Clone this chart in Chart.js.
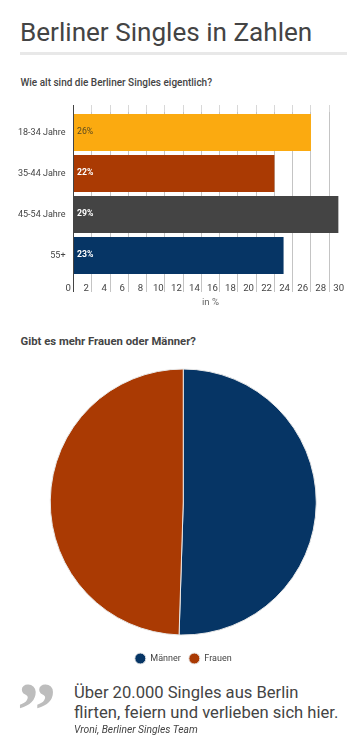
<!DOCTYPE html>
<html lang="de"><head><meta charset="utf-8">
<script src="https://cdn.jsdelivr.net/npm/chart.js@4"></script>
<style>
html,body{margin:0;padding:0;background:#fff;overflow:hidden}
body{width:364px;height:748px;position:relative;font-family:Roboto,sans-serif;color:#444}
.t{position:absolute;white-space:nowrap;margin:0}
canvas{position:absolute;left:0}
</style></head><body>
<h1 class="t" style="left:20px;top:17px;font-size:26.1px;line-height:30px;font-weight:400">Berliner Singles in Zahlen</h1>
<div style="position:absolute;left:20px;top:52px;width:327px;height:3px;background:#e8e8e8"></div>
<div class="t" style="left:20.5px;top:76px;font-size:10px;line-height:13px;font-weight:500">Wie alt sind die Berliner Singles eigentlich?</div>
<div class="t" style="left:20.5px;top:335px;font-size:11.3px;line-height:14px;font-weight:700">Gibt es mehr Frauen oder Männer?</div>
<div style="position:absolute;left:0;top:100px;width:364px;height:210px"><canvas id="bars"></canvas></div>
<div style="position:absolute;left:0;top:350px;width:364px;height:323px"><canvas id="pie"></canvas></div>
<div class="t" style="left:17px;top:670px;font-family:'Liberation Serif',serif;font-weight:700;font-size:79px;line-height:79px;color:#bdbdbd">”</div>
<div class="t" style="left:74px;top:683px;font-size:16.6px;line-height:20px;font-weight:400">Über 20.000 Singles aus Berlin<br>flirten, feiern und verlieben sich hier.</div>
<div class="t" style="left:74px;top:724px;font-size:10.3px;line-height:12px;font-style:italic">Vroni, Berliner Singles Team</div>
<script>
const ageGroups = ["18-34 Jahre", "35-44 Jahre", "45-54 Jahre", "55+"];
const agePercent = [26, 22, 29, 23];
const ageColors = ["#fbaa10", "#aa3a03", "#444444", "#063565"];
const ageLabelColors = ["#5a4a20", "#ffffff", "#ffffff", "#ffffff"];
const xTickValues = [0, 2, 4, 6, 8, 10, 12, 14, 16, 18, 20, 22, 24, 26, 28, 30];
const genderLabels = ["Männer", "Frauen"];
const genderValues = [50.5, 49.5];
const genderColors = ["#063565", "#aa3a03"];

const font = {family: "Roboto", size: 9.6};
const gridColor = c => c.tick && c.tick.value === 0 ? "#444444" : c.tick && c.tick.value === 30 ? "rgba(0,0,0,0)" : "#c4c4c4";

const valueLabels = {
  id: "valueLabels",
  afterDatasetsDraw(chart) {
    const ctx = chart.ctx, meta = chart.getDatasetMeta(0);
    ctx.save();
    ctx.textBaseline = "middle";
    meta.data.forEach((bar, i) => {
      ctx.font = (i === 0 ? "400 " : "700 ") + "8.7px Roboto";
      ctx.fillStyle = ageLabelColors[i];
      ctx.fillText(agePercent[i] + "%", bar.base + 3, bar.y - 1);
    });
    ctx.restore();
  }
};

new Chart(document.getElementById("bars"), {
  type: "bar",
  data: {labels: ageGroups, datasets: [{data: agePercent, backgroundColor: ageColors, categoryPercentage: 1, barPercentage: 0.9}]},
  options: {
    indexAxis: "y", responsive: true, maintainAspectRatio: false, animation: false,
    layout: {padding: {left: 0, right: 16.5, top: 0, bottom: 0}},
    plugins: {legend: {display: false}, tooltip: {enabled: false}},
    scales: {
      y: {
        type: "category", position: "left",
        grid: {display: false}, border: {display: false},
        ticks: {font: {family: "Roboto", size: 9}, color: "#444", padding: 0},
        afterFit: s => { s.width = 73.5; }
      },
      x: {
        type: "linear", position: "bottom", min: 0, max: 30,
        border: {display: false},
        grid: {color: gridColor, tickColor: gridColor, tickLength: 16, drawOnChartArea: true},
        ticks: {display: false, stepSize: 2},
        afterFit: s => { s.height = 0; }
      },
      xTop: {
        type: "linear", position: "top", min: 0, max: 30,
        border: {display: false},
        grid: {drawOnChartArea: false, tickColor: c => c.tick.value === 0 ? "#444444" : c.tick.value === 30 ? "rgba(0,0,0,0)" : "#d8d8d8", tickLength: 7},
        ticks: {display: false, stepSize: 2},
        afterFit: s => { s.height = 12; }
      },
      xLabels: {
        type: "linear", position: "bottom", min: 0.587, max: 30.976,
        border: {display: false}, grid: {display: false},
        afterBuildTicks: s => { s.ticks = xTickValues.map(value => ({value})); },
        ticks: {font, color: "#444", padding: -1, autoSkip: false, maxRotation: 0, callback: v => v},
        title: {display: true, text: "in %", font, color: "#666", padding: {top: 2, bottom: 2}},
        afterFit: s => { s.height = 34; }
      }
    }
  },
  plugins: [valueLabels]
});

new Chart(document.getElementById("pie"), {
  type: "pie",
  data: {labels: genderLabels, datasets: [{data: genderValues, backgroundColor: genderColors, borderColor: "#e8e8e8", borderWidth: 1, radius: 133}]},
  options: {
    responsive: true, maintainAspectRatio: false, animation: false,
    layout: {padding: {left: 2.5, right: 0, top: 8, bottom: 0}},
    plugins: {
      tooltip: {enabled: false},
      legend: {position: "bottom", labels: {usePointStyle: true, pointStyle: "circle", pointStyleWidth: 11, boxHeight: 7.8, padding: 8, color: "#444", font: {family: "Roboto", size: 9}}}
    }
  }
});
</script>
</body></html>
